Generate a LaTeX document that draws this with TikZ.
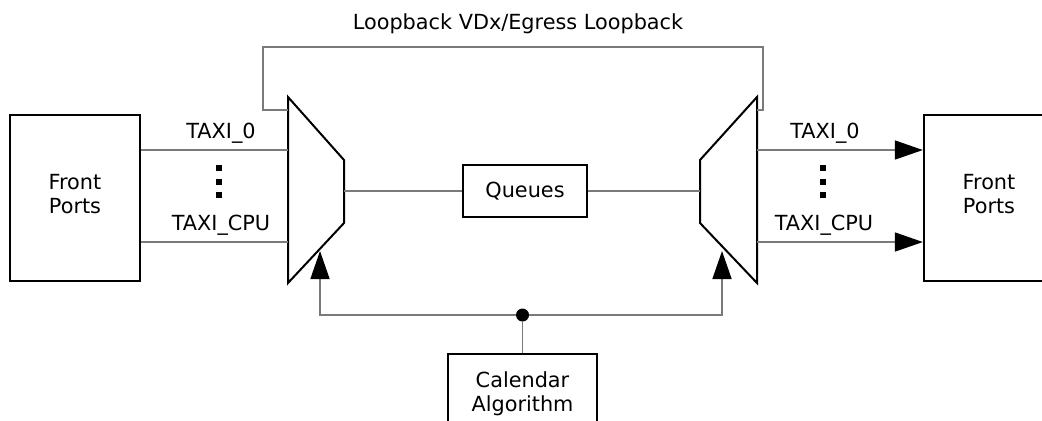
\documentclass[tikz,border=0pt]{standalone}
\usepackage{fontspec}
\setmainfont{DejaVu Sans}
\usetikzlibrary{arrows.meta, positioning}
\colorlet{wiregray}{black!52}
\tikzset{
  blockbox/.style={draw=black, line width=1.15pt, align=center, inner sep=0pt},
  muxedge/.style={draw=black, line width=1pt, line join=miter},
  wire/.style={draw=wiregray, line width=0.75pt},
  dotnode/.style={circle, fill=black, inner sep=0pt, minimum size=6.5pt},
}

\begin{document}
\begin{tikzpicture}[x=0.5pt, y=-0.5pt, >={Triangle[length=14pt, width=9.5pt, color=black]},
    font=\fontsize{10.4}{12}\selectfont]
  \useasboundingbox (0,0) rectangle (1042,420);

  % blocks
  \node[blockbox, minimum width=65pt, minimum height=83pt] (frontin) at (75,198) {Front\\Ports\strut};
  \node[blockbox, minimum width=65pt, minimum height=83pt] (frontout) at (989,198) {Front\\Ports\strut};
  \node[blockbox, minimum width=62pt, minimum height=26pt] (queues) at (525,191) {Queues};
  \node[blockbox, minimum width=74.5pt, minimum height=39.5pt] (calendar) at (522.5,393.5) {Calendar\\Algorithm};

  % muxes
  \coordinate (imux-nw) at (288,97);  \coordinate (imux-ne) at (344,160);
  \coordinate (imux-se) at (344,223); \coordinate (imux-sw) at (288,283);
  \coordinate (omux-ne) at (757,97);  \coordinate (omux-nw) at (700,160);
  \coordinate (omux-sw) at (700,223); \coordinate (omux-se) at (757,283);
  \draw[muxedge] (imux-nw) -- (imux-ne) -- (imux-se) -- (imux-sw) -- cycle;
  \draw[muxedge] (omux-ne) -- (omux-nw) -- (omux-sw) -- (omux-se) -- cycle;

  % mux ports
  \coordinate (imux0) at (288,150);   \coordinate (imuxcpu) at (288,242);
  \coordinate (omux0) at (757,150);   \coordinate (omuxcpu) at (757,242);
  \coordinate (imuxout) at (344,191); \coordinate (omuxin) at (700,191);
  \coordinate (loopin) at (288,110);  \coordinate (loopout) at (757,110);
  \coordinate (imuxsel) at (320,251); \coordinate (omuxsel) at (722,251);

  % ingress side
  \draw[wire] (frontin.east |- imux0) -- (imux0);
  \draw[wire] (frontin.east |- imuxcpu) -- (imuxcpu);
  \node[anchor=base] (itaxi0) at (221,138) {TAXI\_0};
  \node[anchor=base] (itaxicpu) at (221,230) {TAXI\_CPU};
  \foreach \y in {168, 181.5, 195} { \fill (216,\y-3) rectangle (222,\y+3); }

  % egress side
  \draw[wire, ->] (omux0) -- (frontout.west |- omux0);
  \draw[wire, ->] (omuxcpu) -- (frontout.west |- omuxcpu);
  \node[anchor=base] (otaxi0) at (825,138) {TAXI\_0};
  \node[anchor=base] (otaxicpu) at (824,230) {TAXI\_CPU};
  \foreach \y in {168, 181.5, 195} { \fill (820,\y-3) rectangle (826,\y+3); }

  % queues
  \draw[wire] (imuxout) -- (queues.west);
  \draw[wire] (queues.east) -- (omuxin);

  % loopback
  \draw[wire] (loopin) -- (263,110) |- (763,47) |- (loopout);
  \node (looplabel) at (518,24) {Loopback VDx/Egress Loopback};

  % calendar
  \node[dotnode] (split) at (522.5,315) {};
  \draw[wire] (calendar.north) -- (split);
  \draw[wire, ->] (split) -| (imuxsel);
  \draw[wire, ->] (split) -| (omuxsel);
\end{tikzpicture}
\end{document}
